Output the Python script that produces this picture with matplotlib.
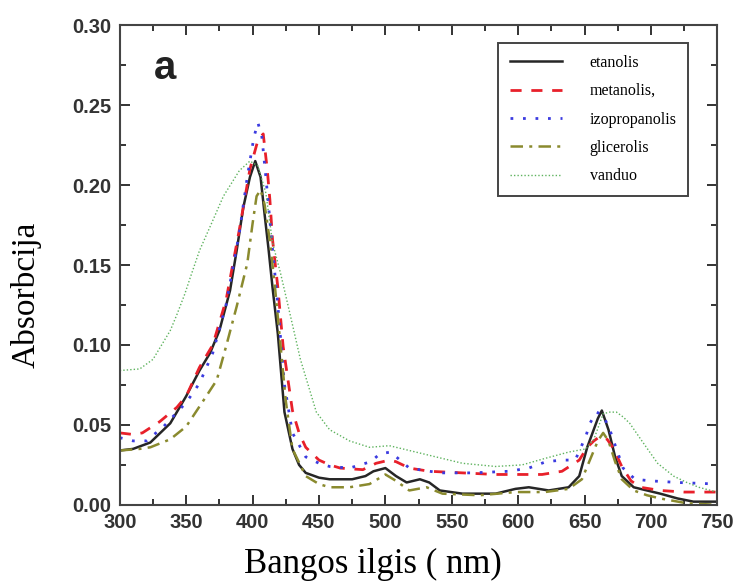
import matplotlib.pyplot as plt
from matplotlib.ticker import MultipleLocator

# absorption spectra in different solvents
wl_etanolis = [300, 310, 323, 338, 350, 360, 368, 375, 383, 388, 393, 398, 402, 406, 409, 412, 415, 419, 424, 430,
               435, 440, 450, 458, 475, 485, 491, 500, 508, 516, 526, 533, 541, 558, 583, 598, 608, 623, 638, 646,
               652, 656, 660, 663, 668, 673, 678, 687, 697, 707, 720, 732, 750]
a_etanolis = [0.034, 0.035, 0.039, 0.051, 0.068, 0.084, 0.095, 0.109, 0.134, 0.159, 0.186, 0.205, 0.215, 0.205,
              0.182, 0.160, 0.136, 0.107, 0.058, 0.035, 0.025, 0.020, 0.017, 0.016, 0.016, 0.018, 0.021, 0.023,
              0.018, 0.014, 0.016, 0.014, 0.009, 0.007, 0.007, 0.010, 0.011, 0.009, 0.011, 0.018, 0.036, 0.045,
              0.054, 0.059, 0.047, 0.030, 0.018, 0.011, 0.009, 0.007, 0.004, 0.002, 0.002]

wl_metanolis = [300, 310, 317, 330, 343, 350, 360, 370, 380, 390, 398, 404, 408, 411, 413, 415, 419, 423, 430, 435,
                440, 450, 458, 466, 483, 493, 503, 508, 518, 533, 558, 583, 603, 618, 633, 646, 652, 657, 662, 667,
                672, 678, 685, 692, 707, 725, 750]
a_metanolis = [0.045, 0.044, 0.045, 0.052, 0.061, 0.068, 0.086, 0.100, 0.128, 0.172, 0.210, 0.228, 0.232, 0.210,
               0.191, 0.166, 0.136, 0.099, 0.059, 0.045, 0.036, 0.028, 0.025, 0.023, 0.022, 0.026, 0.028, 0.027,
               0.023, 0.021, 0.020, 0.019, 0.019, 0.019, 0.021, 0.028, 0.036, 0.040, 0.043, 0.041, 0.035, 0.024,
               0.015, 0.011, 0.009, 0.008, 0.008]

wl_izopropanolis = [300, 310, 320, 333, 350, 360, 370, 380, 390, 396, 401, 404, 407, 410, 415, 419, 424, 430, 440,
                    450, 458, 473, 489, 496, 504, 511, 518, 541, 566, 593, 608, 621, 633, 643, 651, 654, 659, 664,
                    669, 674, 679, 688, 700, 720, 750]
a_izopropanolis = [0.042, 0.040, 0.040, 0.049, 0.064, 0.076, 0.095, 0.125, 0.170, 0.205, 0.230, 0.239, 0.230,
                   0.205, 0.160, 0.125, 0.075, 0.045, 0.030, 0.026, 0.024, 0.023, 0.027, 0.032, 0.033, 0.028,
                   0.023, 0.020, 0.020, 0.021, 0.023, 0.027, 0.028, 0.028, 0.043, 0.051, 0.058, 0.056, 0.047,
                   0.035, 0.023, 0.016, 0.015, 0.014, 0.013]

wl_glicerolis = [300, 315, 323, 338, 350, 362, 373, 380, 388, 396, 400, 403, 406, 409, 413, 417, 421, 425, 430, 440,
                 450, 458, 473, 488, 500, 508, 518, 531, 543, 571, 598, 620, 638, 648, 655, 660, 664, 668, 673, 678,
                 687, 697, 707, 727, 750]
a_glicerolis = [0.034, 0.035, 0.036, 0.041, 0.049, 0.064, 0.078, 0.099, 0.124, 0.151, 0.176, 0.193, 0.197, 0.188,
                0.165, 0.135, 0.100, 0.065, 0.035, 0.018, 0.013, 0.011, 0.011, 0.013, 0.019, 0.015, 0.009, 0.011,
                0.007, 0.006, 0.008, 0.008, 0.010, 0.016, 0.030, 0.040, 0.045, 0.040, 0.027, 0.016, 0.009, 0.006,
                0.004, 0.001, 0.000]

wl_vanduo = [300, 315, 325, 338, 343, 349, 353, 360, 368, 378, 390, 398, 404, 410, 415, 421, 428, 436, 448, 458,
             473, 488, 503, 518, 533, 558, 583, 603, 620, 638, 651, 657, 664, 669, 674, 679, 684, 694, 705, 717,
             727, 736, 745, 750]
a_vanduo = [0.084, 0.085, 0.091, 0.109, 0.119, 0.132, 0.142, 0.159, 0.174, 0.193, 0.209, 0.215, 0.212, 0.195,
            0.164, 0.145, 0.120, 0.091, 0.058, 0.047, 0.040, 0.036, 0.037, 0.034, 0.031, 0.026, 0.024, 0.025,
            0.029, 0.033, 0.035, 0.041, 0.057, 0.058, 0.058, 0.055, 0.051, 0.039, 0.026, 0.018, 0.014, 0.011,
            0.009, 0.008]

fig = plt.figure(figsize=(7.35, 5.85), dpi=100)
ax = fig.add_axes([0.163, 0.137, 0.813, 0.820])

ax.plot(wl_etanolis, a_etanolis, color='#262626', lw=1.8, ls='-', label='etanolis')
ax.plot(wl_metanolis, a_metanolis, color='#e8202a', lw=2.0, ls=(0, (4, 3.5)), label='metanolis,')
ax.plot(wl_izopropanolis, a_izopropanolis, color='#3b3be0', lw=2.0, ls=(0, (1, 3.5)), label='izopropanolis')
ax.plot(wl_glicerolis, a_glicerolis, color='#8a8a2e', lw=1.8, ls=(0, (5, 2.5, 1.2, 2.5)), label='glicerolis')
ax.plot(wl_vanduo, a_vanduo, color='#5fb35f', lw=1.0, ls=(0, (1, 1.5)), label='vanduo')

ax.set_xlim(300, 750)
ax.set_ylim(0, 0.30)
ax.xaxis.set_major_locator(MultipleLocator(50))
ax.xaxis.set_minor_locator(MultipleLocator(25))
ax.yaxis.set_major_locator(MultipleLocator(0.05))
ax.yaxis.set_minor_locator(MultipleLocator(0.025))
ax.yaxis.set_major_formatter(plt.FormatStrFormatter('%.2f'))
ax.tick_params(which='both', direction='in', top=True, right=True, color='#333333', width=1.4)
ax.tick_params(which='major', length=7, labelsize=14.5, pad=6, labelcolor='#333333')
ax.tick_params(which='minor', length=4)
for lab in ax.get_xticklabels() + ax.get_yticklabels():
    lab.set_fontweight('bold')
    lab.set_family('Liberation Sans')
for sp in ax.spines.values():
    sp.set_color('#444444')
    sp.set_linewidth(1.5)

ax.set_xlabel('Bangos ilgis ( nm)', family='Liberation Serif', fontsize=25)
ax.set_ylabel('Absorbcija', family='Liberation Serif', fontsize=24)
ax.xaxis.set_label_coords(0.424, -0.125)
ax.yaxis.set_label_coords(-0.156, 0.4375)
ax.xaxis.label.set_va('center')
ax.yaxis.label.set_va('center')

ax.text(0.075, 0.91, 'a', transform=ax.transAxes, family='Liberation Sans', fontweight='bold',
        fontsize=29, ha='center', va='center', color='#222222')

leg = ax.legend(loc='upper right', bbox_to_anchor=(0.951, 0.9625), prop={'family': 'Liberation Serif', 'size': 11.5},
                handlelength=3.25, handletextpad=1.75, labelspacing=0.78, borderpad=0.72, fancybox=False,
                framealpha=1, borderaxespad=0)
leg.get_frame().set_edgecolor('#444444')
leg.get_frame().set_linewidth(1.4)

fig.savefig('out.png', dpi=100)
